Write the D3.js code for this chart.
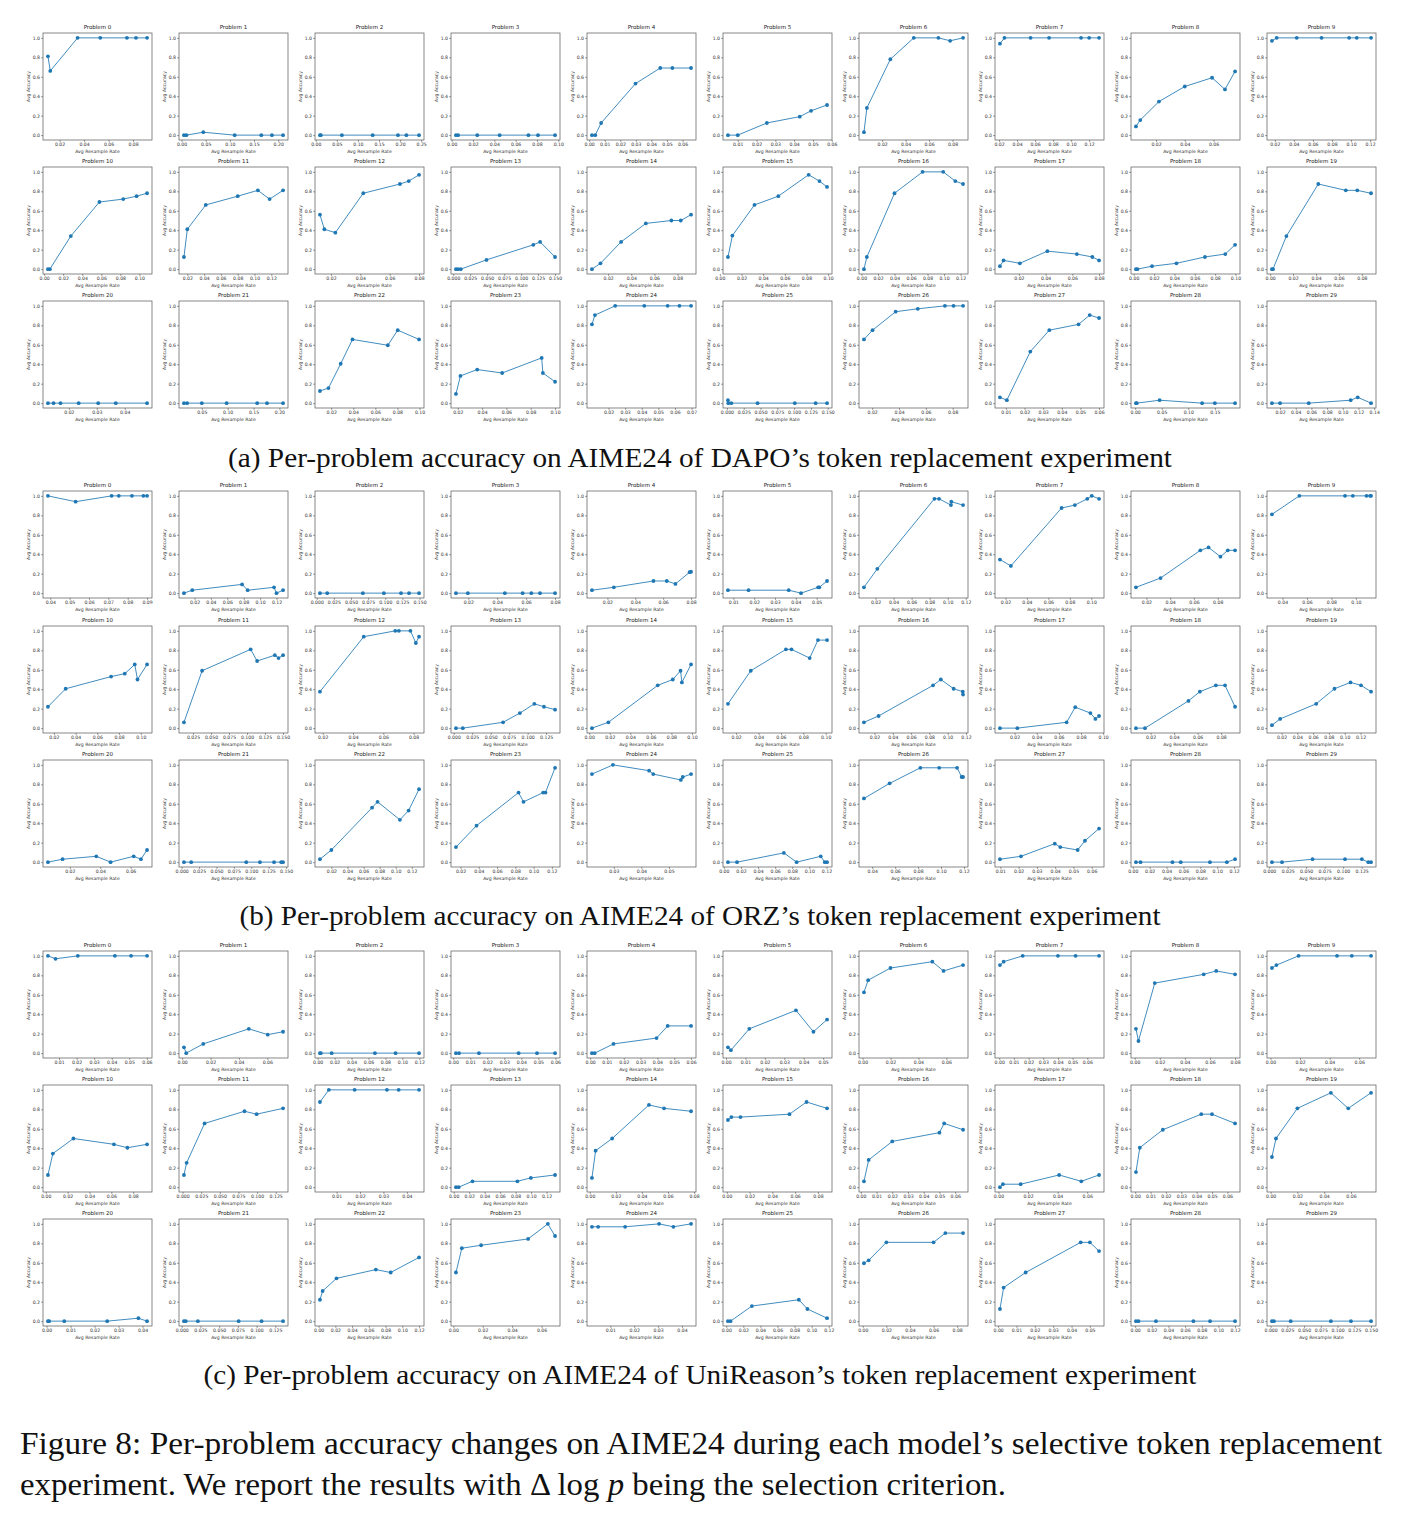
<!DOCTYPE html>
<html>
<head>
<meta charset="utf-8">
<script src="https://cdn.jsdelivr.net/npm/d3@7"></script>
<style>
body { margin: 0; background: #fff; }
svg { display: block; }
</style>
</head>
<body>
<svg id="fig"></svg>
<script>
// ---- data ----
let problemTitles = d3.range(30).map(i => 'Problem ' + i);
let accTicks = [0, 0.2, 0.4, 0.6, 0.8, 1.0];

let panelCaptions = [
    "(a) Per-problem accuracy on AIME24 of DAPO\u2019s token replacement experiment",
    "(b) Per-problem accuracy on AIME24 of ORZ\u2019s token replacement experiment",
    "(c) Per-problem accuracy on AIME24 of UniReason\u2019s token replacement experiment"
];

// (a) DAPO
let dapoRate = [
    [0.0105, 0.0124, 0.0347, 0.0532, 0.0750, 0.0824, 0.0914],
    [0.005, 0.010, 0.045, 0.110, 0.165, 0.187, 0.210],
    [0.010, 0.012, 0.062, 0.135, 0.195, 0.215, 0.245],
    [0.004, 0.006, 0.024, 0.045, 0.072, 0.081, 0.097],
    [0.0018, 0.0039, 0.0077, 0.0298, 0.0457, 0.0535, 0.0655],
    [0.0048, 0.0100, 0.0255, 0.0430, 0.0490, 0.0575],
    [0.0045, 0.007, 0.027, 0.047, 0.068, 0.078, 0.089],
    [0.021, 0.026, 0.055, 0.0755, 0.111, 0.120, 0.131],
    [0.006, 0.009, 0.022, 0.040, 0.059, 0.068, 0.075],
    [0.017, 0.022, 0.043, 0.069, 0.098, 0.106, 0.121],
    [0.004, 0.006, 0.028, 0.058, 0.083, 0.097, 0.108],
    [0.016, 0.020, 0.042, 0.080, 0.104, 0.118, 0.134],
    [0.0125, 0.0155, 0.023, 0.042, 0.067, 0.073, 0.080],
    [0.004, 0.007, 0.011, 0.049, 0.118, 0.128, 0.150],
    [0.006, 0.0134, 0.0312, 0.0526, 0.0747, 0.0828, 0.0917],
    [0.0075, 0.0116, 0.032, 0.054, 0.082, 0.092, 0.099],
    [0.003, 0.0065, 0.040, 0.074, 0.099, 0.1136, 0.123],
    [0.0058, 0.0085, 0.0207, 0.0413, 0.0634, 0.075, 0.080],
    [0.0022, 0.0036, 0.018, 0.042, 0.070, 0.090, 0.0996],
    [0.0016, 0.0025, 0.0142, 0.042, 0.066, 0.076, 0.088],
    [0.0125, 0.0145, 0.017, 0.0235, 0.0305, 0.0368, 0.048],
    [0.0155, 0.0216, 0.050, 0.098, 0.157, 0.176, 0.207],
    [0.0098, 0.0175, 0.0286, 0.0393, 0.0713, 0.0803, 0.0996],
    [0.0185, 0.0222, 0.036, 0.0565, 0.089, 0.090, 0.100],
    [0.010, 0.0118, 0.024, 0.0415, 0.0556, 0.0627, 0.0697],
    [0.0015, 0.002, 0.0065, 0.0456, 0.101, 0.132, 0.149],
    [0.0139, 0.0203, 0.0375, 0.054, 0.0742, 0.0806, 0.0877],
    [0.0068, 0.0105, 0.0231, 0.0333, 0.049, 0.055, 0.060],
    [0.0015, 0.003, 0.046, 0.126, 0.150, 0.188],
    [0.0097, 0.020, 0.0566, 0.110, 0.119, 0.136]
];
let dapoAcc = [
    [0.81, 0.66, 1, 1, 1, 1, 1],
    [0, 0, 0.03, 0, 0, 0, 0],
    [0, 0, 0, 0, 0, 0, 0],
    [0, 0, 0, 0, 0, 0, 0],
    [0, 0, 0.125, 0.53, 0.69, 0.69, 0.69],
    [0, 0, 0.125, 0.19, 0.25, 0.31],
    [0.03, 0.28, 0.78, 1, 1, 0.97, 1],
    [0.94, 1, 1, 1, 1, 1, 1],
    [0.09, 0.155, 0.345, 0.50, 0.59, 0.47, 0.655],
    [0.97, 1, 1, 1, 1, 1, 1],
    [0, 0, 0.34, 0.69, 0.72, 0.75, 0.78],
    [0.125, 0.41, 0.66, 0.75, 0.81, 0.72, 0.81],
    [0.56, 0.41, 0.375, 0.78, 0.875, 0.905, 0.97],
    [0, 0, 0, 0.095, 0.25, 0.28, 0.125],
    [0, 0.06, 0.28, 0.47, 0.50, 0.50, 0.56],
    [0.125, 0.345, 0.66, 0.75, 0.97, 0.905, 0.845],
    [0, 0.125, 0.78, 1, 1, 0.905, 0.875],
    [0.03, 0.09, 0.06, 0.185, 0.155, 0.125, 0.09],
    [0, 0, 0.03, 0.06, 0.125, 0.155, 0.25],
    [0, 0, 0.34, 0.875, 0.81, 0.81, 0.78],
    [0, 0, 0, 0, 0, 0, 0],
    [0, 0, 0, 0, 0, 0, 0],
    [0.125, 0.155, 0.405, 0.655, 0.595, 0.75, 0.655],
    [0.095, 0.28, 0.345, 0.31, 0.465, 0.31, 0.22],
    [0.81, 0.905, 1, 1, 1, 1, 1],
    [0.03, 0, 0, 0, 0, 0, 0],
    [0.655, 0.75, 0.94, 0.97, 1, 1, 1],
    [0.06, 0.03, 0.53, 0.75, 0.81, 0.905, 0.875],
    [0, 0, 0.03, 0, 0, 0],
    [0, 0, 0, 0.03, 0.06, 0]
];
let dapoTicks = [
    [0.02, 0.04, 0.06, 0.08],
    [0, 0.05, 0.10, 0.15, 0.20],
    [0, 0.05, 0.10, 0.15, 0.20, 0.25],
    [0, 0.02, 0.04, 0.06, 0.08, 0.10],
    [0, 0.01, 0.02, 0.03, 0.04, 0.05, 0.06],
    [0.01, 0.02, 0.03, 0.04, 0.05, 0.06],
    [0.02, 0.04, 0.06, 0.08],
    [0.02, 0.04, 0.06, 0.08, 0.10, 0.12],
    [0.02, 0.04, 0.06],
    [0.02, 0.04, 0.06, 0.08, 0.10, 0.12],
    [0, 0.02, 0.04, 0.06, 0.08, 0.10],
    [0.02, 0.04, 0.06, 0.08, 0.10, 0.12],
    [0.02, 0.04, 0.06, 0.08],
    [0, 0.025, 0.05, 0.075, 0.10, 0.125, 0.15],
    [0.02, 0.04, 0.06, 0.08],
    [0, 0.02, 0.04, 0.06, 0.08, 0.10],
    [0, 0.02, 0.04, 0.06, 0.08, 0.10, 0.12],
    [0.02, 0.04, 0.06, 0.08],
    [0, 0.02, 0.04, 0.06, 0.08, 0.10],
    [0, 0.02, 0.04, 0.06, 0.08],
    [0.02, 0.03, 0.04],
    [0.05, 0.10, 0.15, 0.20],
    [0.02, 0.04, 0.06, 0.08, 0.10],
    [0.02, 0.04, 0.06, 0.08, 0.10],
    [0.02, 0.03, 0.04, 0.05, 0.06, 0.07],
    [0, 0.025, 0.05, 0.075, 0.10, 0.125, 0.15],
    [0.02, 0.04, 0.06, 0.08],
    [0.01, 0.02, 0.03, 0.04, 0.05, 0.06],
    [0, 0.05, 0.10, 0.15],
    [0.02, 0.04, 0.06, 0.08, 0.10, 0.12, 0.14]
];

// (b) ORZ
let orzRate = [
    [0.0388, 0.0531, 0.0717, 0.0754, 0.0822, 0.0881, 0.0900],
    [0.0071, 0.0172, 0.078, 0.0848, 0.117, 0.120, 0.128],
    [0.0047, 0.0153, 0.0673, 0.098, 0.123, 0.1347, 0.1493],
    [0.0115, 0.0197, 0.0453, 0.0576, 0.0636, 0.0696, 0.080],
    [0.0089, 0.0246, 0.053, 0.0626, 0.0688, 0.079, 0.080],
    [0.0074, 0.0173, 0.0366, 0.0425, 0.0507, 0.0513, 0.055],
    [0.0072, 0.022, 0.0853, 0.0904, 0.1036, 0.104, 0.117],
    [0.0149, 0.0251, 0.0723, 0.0847, 0.0962, 0.1004, 0.1072],
    [0.0112, 0.0319, 0.0654, 0.0723, 0.0823, 0.0885, 0.0946],
    [0.0314, 0.0538, 0.0911, 0.0975, 0.1087, 0.1116, 0.1124],
    [0.0146, 0.0309, 0.0727, 0.0853, 0.0945, 0.097, 0.1058],
    [0.0124, 0.0376, 0.105, 0.114, 0.1386, 0.1437, 0.150],
    [0.0182, 0.0471, 0.0679, 0.0703, 0.0779, 0.0815, 0.0836],
    [0.003, 0.0123, 0.0667, 0.0895, 0.109, 0.122, 0.137],
    [0.0027, 0.0187, 0.0667, 0.0813, 0.0889, 0.0902, 0.0991],
    [0.0127, 0.0331, 0.0645, 0.0694, 0.0857, 0.0931, 0.1012],
    [0.0085, 0.0245, 0.084, 0.0925, 0.1065, 0.1165, 0.1168],
    [0.0068, 0.0225, 0.067, 0.0748, 0.0885, 0.093, 0.0963],
    [0.0076, 0.0153, 0.0522, 0.0619, 0.0755, 0.0833, 0.0918],
    [0.0079, 0.0183, 0.0639, 0.087, 0.1073, 0.1206, 0.1333],
    [0.0056, 0.0152, 0.0374, 0.0468, 0.062, 0.0668, 0.0708],
    [0.0033, 0.0137, 0.0928, 0.1124, 0.1327, 0.143, 0.1456],
    [0.0058, 0.020, 0.0706, 0.0774, 0.1052, 0.116, 0.129],
    [0.015, 0.0375, 0.0835, 0.089, 0.1105, 0.113, 0.1235],
    [0.0221, 0.0297, 0.0428, 0.0443, 0.0543, 0.055, 0.058],
    [0.0048, 0.0154, 0.0702, 0.0851, 0.1133, 0.1181, 0.1207],
    [0.0328, 0.0552, 0.082, 0.0984, 0.114, 0.118, 0.1192],
    [0.0098, 0.0213, 0.0398, 0.0428, 0.0523, 0.0563, 0.064],
    [0.0038, 0.0092, 0.047, 0.0568, 0.0914, 0.1114, 0.1211],
    [0.0037, 0.0173, 0.0586, 0.1025, 0.1253, 0.134, 0.1377]
];
let orzAcc = [
    [1, 0.94, 1, 1, 1, 1, 1],
    [0, 0.03, 0.09, 0.03, 0.06, 0, 0.03],
    [0, 0, 0, 0, 0, 0, 0],
    [0, 0, 0, 0, 0, 0, 0],
    [0.03, 0.06, 0.125, 0.125, 0.095, 0.215, 0.22],
    [0.03, 0.03, 0.03, 0, 0.06, 0.06, 0.125],
    [0.06, 0.25, 0.97, 0.97, 0.905, 0.94, 0.905],
    [0.345, 0.28, 0.875, 0.905, 0.97, 1, 0.97],
    [0.06, 0.155, 0.44, 0.47, 0.375, 0.44, 0.44],
    [0.81, 1, 1, 1, 1, 1, 1],
    [0.22, 0.405, 0.53, 0.56, 0.655, 0.5, 0.655],
    [0.06, 0.59, 0.81, 0.69, 0.75, 0.72, 0.75],
    [0.375, 0.94, 1, 1, 1, 0.875, 0.94],
    [0, 0, 0.06, 0.155, 0.25, 0.22, 0.19],
    [0, 0.06, 0.44, 0.5, 0.59, 0.47, 0.655],
    [0.25, 0.59, 0.81, 0.81, 0.72, 0.905, 0.905],
    [0.06, 0.125, 0.44, 0.5, 0.405, 0.375, 0.345],
    [0, 0, 0.06, 0.215, 0.155, 0.095, 0.125],
    [0, 0, 0.28, 0.375, 0.44, 0.44, 0.22],
    [0.03, 0.095, 0.25, 0.405, 0.47, 0.44, 0.375],
    [0, 0.03, 0.06, 0, 0.06, 0.03, 0.125],
    [0, 0, 0, 0, 0, 0, 0],
    [0.03, 0.125, 0.56, 0.62, 0.435, 0.53, 0.75],
    [0.155, 0.375, 0.715, 0.62, 0.715, 0.715, 0.97],
    [0.905, 1, 0.94, 0.905, 0.845, 0.875, 0.905],
    [0, 0, 0.095, 0, 0.06, 0, 0],
    [0.655, 0.81, 0.97, 0.97, 0.97, 0.875, 0.875],
    [0.03, 0.06, 0.19, 0.155, 0.125, 0.22, 0.345],
    [0, 0, 0, 0, 0, 0, 0.03],
    [0, 0, 0.03, 0.03, 0.03, 0, 0]
];
let orzTicks = [
    [0.04, 0.05, 0.06, 0.07, 0.08, 0.09],
    [0.02, 0.04, 0.06, 0.08, 0.10, 0.12],
    [0, 0.025, 0.05, 0.075, 0.10, 0.125, 0.15],
    [0.02, 0.04, 0.06, 0.08],
    [0.02, 0.04, 0.06, 0.08],
    [0.01, 0.02, 0.03, 0.04, 0.05],
    [0.02, 0.04, 0.06, 0.08, 0.10, 0.12],
    [0.02, 0.04, 0.06, 0.08, 0.10],
    [0.02, 0.04, 0.06, 0.08],
    [0.04, 0.06, 0.08, 0.10],
    [0.02, 0.04, 0.06, 0.08, 0.10],
    [0.025, 0.05, 0.075, 0.10, 0.125, 0.15],
    [0.02, 0.04, 0.06, 0.08],
    [0, 0.025, 0.05, 0.075, 0.10, 0.125],
    [0, 0.02, 0.04, 0.06, 0.08, 0.10],
    [0.02, 0.04, 0.06, 0.08, 0.10],
    [0.02, 0.04, 0.06, 0.08, 0.10, 0.12],
    [0.02, 0.04, 0.06, 0.08, 0.10],
    [0.02, 0.04, 0.06, 0.08],
    [0.02, 0.04, 0.06, 0.08, 0.10, 0.12],
    [0.02, 0.04, 0.06],
    [0, 0.025, 0.05, 0.075, 0.10, 0.125, 0.15],
    [0.02, 0.04, 0.06, 0.08, 0.10, 0.12],
    [0.02, 0.04, 0.06, 0.08, 0.10, 0.12],
    [0.03, 0.04, 0.05],
    [0, 0.02, 0.04, 0.06, 0.08, 0.10, 0.12],
    [0.04, 0.06, 0.08, 0.10, 0.12],
    [0.01, 0.02, 0.03, 0.04, 0.05, 0.06],
    [0, 0.02, 0.04, 0.06, 0.08, 0.10, 0.12],
    [0, 0.025, 0.05, 0.075, 0.10, 0.125]
];

// (c) UniReason
let uniRate = [
    [0.0037, 0.008, 0.0207, 0.0418, 0.051, 0.0601],
    [0.0013, 0.0029, 0.0149, 0.047, 0.0603, 0.0711],
    [0.0027, 0.0037, 0.0165, 0.0676, 0.092, 0.1197],
    [0.0016, 0.0034, 0.0151, 0.0384, 0.0492, 0.0598],
    [0.0011, 0.0027, 0.0139, 0.0395, 0.0461, 0.060],
    [0.001, 0.0025, 0.012, 0.036, 0.045, 0.052],
    [0.001, 0.004, 0.020, 0.050, 0.058, 0.072],
    [0.0005, 0.003, 0.016, 0.040, 0.052, 0.068],
    [0.001, 0.003, 0.016, 0.055, 0.065, 0.080],
    [0.001, 0.004, 0.019, 0.045, 0.055, 0.068],
    [0.002, 0.0065, 0.0253, 0.0624, 0.0747, 0.0927],
    [0.0018, 0.0054, 0.0295, 0.0831, 0.0994, 0.1349],
    [0.0029, 0.0067, 0.0177, 0.0315, 0.0365, 0.0452],
    [0.0029, 0.0064, 0.0243, 0.0823, 0.0997, 0.131],
    [0.0017, 0.0045, 0.0172, 0.0454, 0.057, 0.0777],
    [0.001, 0.004, 0.012, 0.055, 0.070, 0.088],
    [0.002, 0.005, 0.020, 0.050, 0.053, 0.065],
    [0.001, 0.003, 0.015, 0.041, 0.056, 0.068],
    [0.0005, 0.003, 0.018, 0.043, 0.050, 0.065],
    [0.001, 0.004, 0.020, 0.045, 0.058, 0.075],
    [0.0006, 0.0011, 0.0074, 0.0253, 0.0383, 0.0419],
    [0.003, 0.0054, 0.0216, 0.076, 0.1066, 0.1353],
    [0.0016, 0.0048, 0.0214, 0.0684, 0.0861, 0.12],
    [0.0018, 0.0058, 0.0189, 0.0509, 0.0643, 0.0692],
    [0.0023, 0.0049, 0.0162, 0.0304, 0.0364, 0.0438],
    [0.002, 0.005, 0.030, 0.085, 0.095, 0.118],
    [0.001, 0.005, 0.020, 0.060, 0.070, 0.085],
    [0.001, 0.003, 0.015, 0.045, 0.050, 0.055],
    [0.001, 0.004, 0.025, 0.070, 0.090, 0.120],
    [0.002, 0.005, 0.030, 0.090, 0.120, 0.150]
];
let uniAcc = [
    [1, 0.97, 1, 1, 1, 1],
    [0.06, 0, 0.095, 0.25, 0.19, 0.22],
    [0, 0, 0, 0, 0, 0],
    [0, 0, 0, 0, 0, 0],
    [0, 0, 0.095, 0.155, 0.28, 0.28],
    [0.06, 0.03, 0.25, 0.44, 0.22, 0.345],
    [0.625, 0.75, 0.875, 0.94, 0.845, 0.905],
    [0.905, 0.94, 1, 1, 1, 1],
    [0.25, 0.125, 0.72, 0.81, 0.845, 0.81],
    [0.875, 0.905, 1, 1, 1, 1],
    [0.125, 0.345, 0.5, 0.44, 0.405, 0.44],
    [0.125, 0.25, 0.655, 0.78, 0.75, 0.81],
    [0.875, 1, 1, 1, 1, 1],
    [0, 0, 0.06, 0.06, 0.095, 0.125],
    [0.095, 0.375, 0.5, 0.845, 0.81, 0.78],
    [0.69, 0.72, 0.72, 0.75, 0.875, 0.81],
    [0.06, 0.28, 0.47, 0.56, 0.655, 0.59],
    [0, 0.03, 0.03, 0.125, 0.06, 0.125],
    [0.155, 0.405, 0.59, 0.75, 0.75, 0.655],
    [0.31, 0.5, 0.81, 0.97, 0.81, 0.97],
    [0, 0, 0, 0, 0.03, 0],
    [0, 0, 0, 0, 0, 0],
    [0.22, 0.31, 0.44, 0.53, 0.5, 0.655],
    [0.5, 0.75, 0.78, 0.845, 1, 0.875],
    [0.97, 0.97, 0.97, 1, 0.97, 1],
    [0, 0, 0.155, 0.22, 0.125, 0.03],
    [0.595, 0.625, 0.81, 0.81, 0.905, 0.905],
    [0.125, 0.345, 0.5, 0.81, 0.81, 0.72],
    [0, 0, 0, 0, 0, 0],
    [0, 0, 0, 0, 0, 0]
];
let uniTicks = [
    [0.01, 0.02, 0.03, 0.04, 0.05, 0.06],
    [0, 0.02, 0.04, 0.06],
    [0, 0.02, 0.04, 0.06, 0.08, 0.10, 0.12],
    [0, 0.01, 0.02, 0.03, 0.04, 0.05, 0.06],
    [0, 0.01, 0.02, 0.03, 0.04, 0.05, 0.06],
    [0, 0.01, 0.02, 0.03, 0.04, 0.05],
    [0, 0.02, 0.04, 0.06],
    [0, 0.01, 0.02, 0.03, 0.04, 0.05, 0.06],
    [0, 0.02, 0.04, 0.06, 0.08],
    [0, 0.02, 0.04, 0.06],
    [0, 0.02, 0.04, 0.06, 0.08],
    [0, 0.025, 0.05, 0.075, 0.10, 0.125],
    [0.01, 0.02, 0.03, 0.04],
    [0, 0.02, 0.04, 0.06, 0.08, 0.10, 0.12],
    [0, 0.02, 0.04, 0.06, 0.08],
    [0, 0.02, 0.04, 0.06, 0.08],
    [0, 0.01, 0.02, 0.03, 0.04, 0.05, 0.06],
    [0, 0.02, 0.04, 0.06],
    [0, 0.01, 0.02, 0.03, 0.04, 0.05, 0.06],
    [0, 0.02, 0.04, 0.06],
    [0, 0.01, 0.02, 0.03, 0.04],
    [0, 0.025, 0.05, 0.075, 0.10, 0.125],
    [0, 0.02, 0.04, 0.06, 0.08, 0.10, 0.12],
    [0, 0.02, 0.04, 0.06],
    [0.01, 0.02, 0.03, 0.04],
    [0, 0.02, 0.04, 0.06, 0.08, 0.10, 0.12],
    [0, 0.02, 0.04, 0.06, 0.08],
    [0, 0.01, 0.02, 0.03, 0.04, 0.05],
    [0, 0.02, 0.04, 0.06, 0.08, 0.10, 0.12],
    [0, 0.025, 0.05, 0.075, 0.10, 0.125, 0.15]
];

// ---- layout ----
let w = 1405;
let h = 1519;
let colLeft = 43;
let colStep = 136;
let boxW = 109;
let boxH = 107;
let rowTops = [[33, 167, 301], [491, 626, 760], [951, 1085, 1219]];
let captionY = [467, 925, 1384];
let captionLen = [944, 921, 993];
let blue = '#1f77b4';
let plotFont = "'DejaVu Sans', sans-serif";
let capFont = "'Liberation Serif', serif";

let svg = d3.select('#fig').attr('width', w).attr('height', h);
svg.append('rect').attr('width', w).attr('height', h).attr('fill', '#fff');

let decimals = ticks => {
    for (let d = 2; d <= 4; d++) {
        if (ticks.every(t => Math.abs(Math.round(t * 10 ** d) - t * 10 ** d) < 1e-6)) return d;
    }
    return 3;
};

let styleAxis = g => {
    g.attr('font-family', plotFont).attr('font-size', 4.6);
    g.select('.domain').remove();
    g.selectAll('.tick line').attr('stroke', '#444').attr('stroke-width', 0.6);
    g.selectAll('.tick text').attr('fill', '#333');
};

let drawPanel = (rates, accs, ticks, tops) => {
    rates.forEach((xs, i) => {
        let col = i % 10;
        let row = Math.floor(i / 10);
        let g = svg.append('g')
            .attr('transform', 'translate(' + (colLeft + col * colStep) + ',' + tops[row] + ')');

        let ext = d3.extent(xs);
        let pad = (ext[1] - ext[0]) * 0.05;
        let xScale = d3.scaleLinear().domain([ext[0] - pad, ext[1] + pad]).range([0, boxW]);
        let yScale = d3.scaleLinear().domain([-0.05, 1.05]).range([boxH, 0]);

        let xAxis = d3.axisBottom(xScale)
            .tickValues(ticks[i])
            .tickFormat(d3.format('.' + decimals(ticks[i]) + 'f'))
            .tickSize(1.8).tickPadding(1.2);
        let yAxis = d3.axisLeft(yScale)
            .tickValues(accTicks)
            .tickFormat(d3.format('.1f'))
            .tickSize(1.8).tickPadding(1.2);

        g.append('g').attr('transform', 'translate(0,' + boxH + ')').call(xAxis).call(styleAxis);
        g.append('g').call(yAxis).call(styleAxis);

        let pts = xs.map((x, k) => [x, accs[i][k]]);
        g.append('path')
            .datum(pts)
            .attr('fill', 'none')
            .attr('stroke', blue)
            .attr('stroke-width', 0.85)
            .attr('d', d3.line().x(d => xScale(d[0])).y(d => yScale(d[1])));
        g.selectAll('circle')
            .data(pts)
            .enter()
            .append('circle')
            .attr('cx', d => xScale(d[0]))
            .attr('cy', d => yScale(d[1]))
            .attr('r', 1.9)
            .attr('fill', blue);

        g.append('rect')
            .attr('width', boxW).attr('height', boxH)
            .attr('fill', 'none').attr('stroke', '#555').attr('stroke-width', 0.7);

        g.append('text')
            .attr('x', boxW / 2).attr('y', -4)
            .attr('text-anchor', 'middle')
            .attr('font-family', plotFont).attr('font-size', 5.5).attr('fill', '#222')
            .text(problemTitles[i]);
        g.append('text')
            .attr('x', boxW / 2).attr('y', boxH + 12.6)
            .attr('text-anchor', 'middle')
            .attr('font-family', plotFont).attr('font-size', 4.6).attr('fill', '#333')
            .text('Avg Resample Rate');
        g.append('text')
            .attr('transform', 'translate(-13.5,' + (boxH / 2) + ') rotate(-90)')
            .attr('text-anchor', 'middle')
            .attr('font-family', plotFont).attr('font-size', 4.6).attr('fill', '#333')
            .text('Avg Accuracy');
    });
};

drawPanel(dapoRate, dapoAcc, dapoTicks, rowTops[0]);
drawPanel(orzRate, orzAcc, orzTicks, rowTops[1]);
drawPanel(uniRate, uniAcc, uniTicks, rowTops[2]);

panelCaptions.forEach((c, i) => {
    svg.append('text')
        .attr('x', 700).attr('y', captionY[i])
        .attr('text-anchor', 'middle')
        .attr('font-family', capFont).attr('font-size', 27).attr('fill', '#111')
        .attr('textLength', captionLen[i]).attr('lengthAdjust', 'spacingAndGlyphs')
        .text(c);
});

let fig1 = svg.append('text')
    .attr('x', 20).attr('y', 1454)
    .attr('font-family', capFont).attr('font-size', 31).attr('fill', '#111')
    .attr('textLength', 1362).attr('lengthAdjust', 'spacingAndGlyphs')
    .text('Figure 8: Per-problem accuracy changes on AIME24 during each model\u2019s selective token replacement');

let fig2 = svg.append('text')
    .attr('x', 20).attr('y', 1495)
    .attr('font-family', capFont).attr('font-size', 31).attr('fill', '#111')
    .attr('textLength', 986).attr('lengthAdjust', 'spacingAndGlyphs');
fig2.append('tspan').text('experiment. We report the results with \u0394 log ');
fig2.append('tspan').attr('font-style', 'italic').text('p');
fig2.append('tspan').text(' being the selection criterion.');
</script>
</body>
</html>
